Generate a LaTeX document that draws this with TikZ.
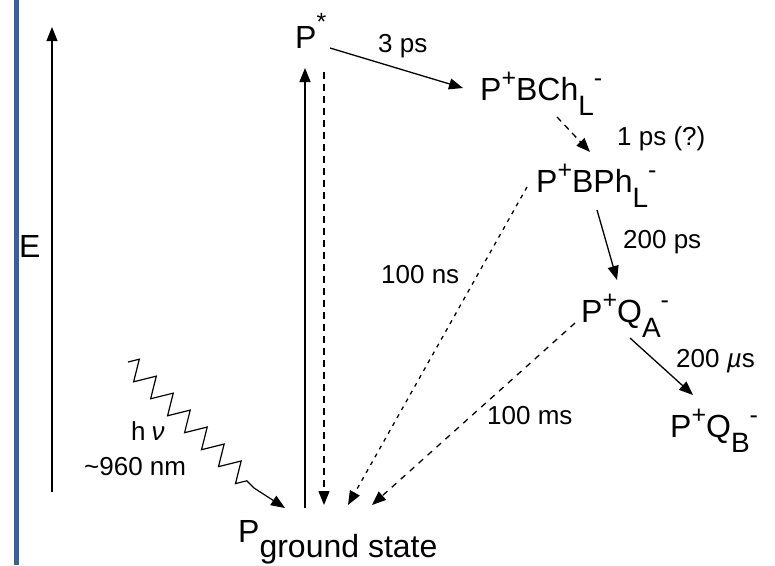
\documentclass[tikz,border=0pt]{standalone}
\usepackage{fontspec}
\setmainfont{Liberation Sans}
\usetikzlibrary{arrows.meta,decorations.pathmorphing}
\definecolor{barblue}{RGB}{60,96,145}
\newcommand{\charge}[2][14pt]{\raisebox{#1}{\fontsize{25}{25}\selectfont #2}}
\newcommand{\site}[1]{\raisebox{-15pt}{\fontsize{28}{28}\selectfont #1}}
\tikzset{
  state/.style={inner sep=0pt, anchor=base west, font=\fontsize{32}{36}\selectfont},
  rate/.style={inner sep=0pt, anchor=base west, font=\fontsize{26}{30}\selectfont},
  arr/.style={line width=1.3pt, -{Triangle[length=14pt,width=11pt]}},
  photon/.style={line width=1.2pt, decoration={zigzag, segment length=24pt, amplitude=10pt}}
}
\begin{document}
\begin{tikzpicture}[x=1pt,y=-1pt]
  \useasboundingbox (0,0) rectangle (775,565);
  \fill[barblue] (14,0) rectangle (19,565);
  % energy axis
  \coordinate (e-lo) at (52,492);
  \coordinate (e-hi) at (52,27);
  \draw[arr, line width=1.1pt] (e-lo) -- (e-hi);
  \node[state] (elabel) at (19,257) {E};
  % states
  \node[state] (pstar) at (295,48) {P\charge[18pt]{*}};
  \node[state] (bchl) at (480,100) {P\charge{+}BCh\site{L}\charge{-}};
  \node[state] (bphl) at (536,192) {P\charge{+}BPh\site{L}\charge{-}};
  \node[state] (qa) at (581,322) {P\charge{+}Q\site{A}\charge{-}};
  \node[state] (qb) at (670,437) {P\charge{+}Q\site{B}\charge{-}};
  \node[state] (pg) at (238,542) {P\raisebox{-15pt}{ground state}};
  % rate labels
  \node[rate] (t3ps) at (378,52) {3 ps};
  \node[rate] (t1ps) at (617,145) {1 ps (?)};
  \node[rate] (t200ps) at (623,248) {200 ps};
  \node[rate] (t200us) at (676,367) {200 {\itshape µ}s};
  \node[rate] (t100ns) at (381,283) {100 ns};
  \node[rate] (t100ms) at (487,424) {100 ms};
  \node[rate] (hnu) at (131,440) {h\hspace{6pt}{\itshape ν}};
  \node[rate] (lambda) at (84,475) {\textasciitilde 960 nm};
  % excitation and forward transfer
  \draw[arr] ([shift={(67,-34)}]pg.base west) -- ([shift={(10,20)}]pstar.base west);
  \draw[arr] ([shift={(35,0)}]pstar.base west) -- ([shift={(-17,-12)}]bchl.base west);
  \draw[arr, dash pattern=on 6pt off 5pt] ([shift={(77,17)}]bchl.base west) -- ([shift={(54,-40)}]bphl.base west);
  \draw[arr] ([shift={(61,18)}]bphl.base west) -- ([shift={(36,-42)}]qa.base west);
  \draw[arr] ([shift={(49,16)}]qa.base west) -- ([shift={(23,-42)}]qb.base west);
  % recombination
  \draw[arr, dash pattern=on 7pt off 5pt] ([shift={(29,24)}]pstar.base west) -- ([shift={(86,-37)}]pg.base west);
  \draw[arr, dash pattern=on 4pt off 5pt] ([shift={(-9,-5)}]bphl.base west) -- ([shift={(110,-37)}]pg.base west);
  \draw[arr, dash pattern=on 6pt off 6pt] ([shift={(-6,1)}]qa.base west) -- ([shift={(134,-37)}]pg.base west);
  % photon
  \coordinate (hv-start) at (128,362);
  \coordinate (hv-kink) at (254,488);
  \draw[arr, line width=1.2pt] (hv-start) decorate[photon] {-- (hv-kink)} -- ([shift={(47,-34)}]pg.base west);
\end{tikzpicture}
\end{document}
